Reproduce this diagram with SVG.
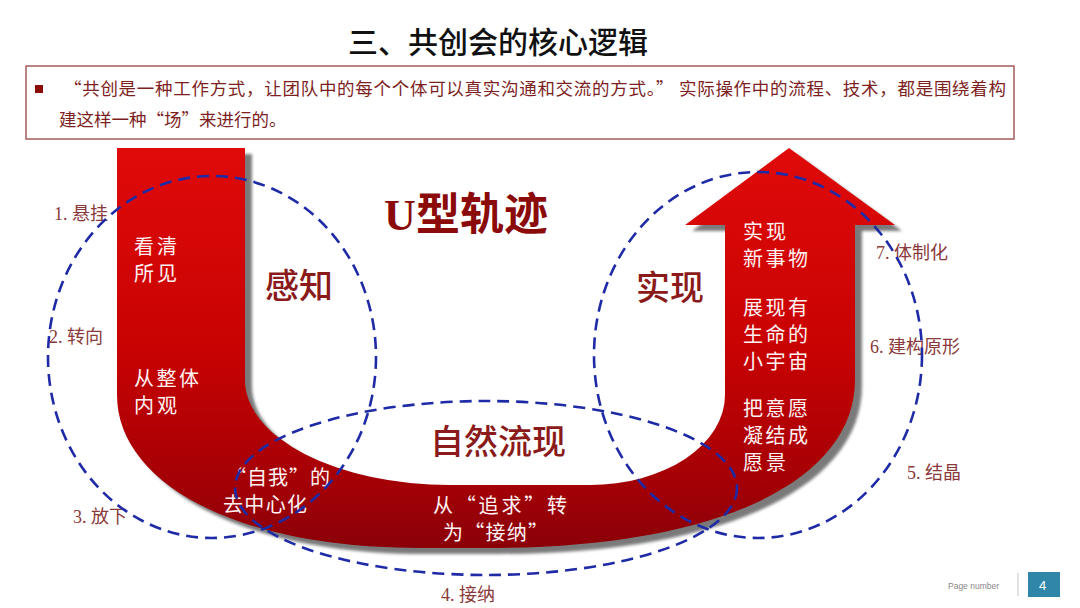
<svg xmlns="http://www.w3.org/2000/svg" width="1080" height="608" viewBox="0 0 1080 608">
<defs>
<style>
.title{font-family:"Noto Sans CJK SC","Noto Sans",sans-serif;font-size:30px;font-weight:500;fill:#111}
.box{font-family:"Noto Sans CJK SC",sans-serif;font-size:17.5px;fill:#7e1f1f}
.lbl{font-family:"Liberation Serif","Noto Sans CJK SC",serif;font-size:18px;fill:#8a3a3a}
.big{font-family:"Noto Sans CJK SC",sans-serif;font-size:34px;fill:#8b1a1a;font-weight:500}
.in{font-family:"Noto Sans CJK SC",sans-serif;font-size:20px;fill:#fff2f2}
.ring{fill:none;stroke:#1f2ba6;stroke-width:2.6;stroke-dasharray:12 7}
</style>
<linearGradient id="red" gradientUnits="userSpaceOnUse" x1="0" y1="148" x2="0" y2="548">
<stop offset="0" stop-color="#e00a0a"/>
<stop offset="0.5" stop-color="#c80202"/>
<stop offset="0.85" stop-color="#a20006"/>
<stop offset="1" stop-color="#8a0008"/>
</linearGradient>
<filter id="soft" x="-5%" y="-5%" width="110%" height="110%"><feGaussianBlur stdDeviation="1.8"/></filter>
<path id="ushape" d="M117,148 L245,148 L245,380 A205,105 0 0 0 450,485 L590,485 A135,90 0 0 0 725,395 L725,225 L685,225 L789,148 L895,225 L855,225 L855,380 C855,480 720,548 490,548 L420,548 C230,548 117,480 117,395 Z"/>
</defs>
<rect width="1080" height="608" fill="#ffffff"/>

<g id="title"><text class="title" x="498" y="53" text-anchor="middle">三、共创会的核心逻辑</text></g>

<g id="quote-box">
<rect x="26" y="66" width="988" height="73" fill="#fff" stroke="#a45c5c" stroke-width="1.5"/>
<rect x="35" y="85" width="8" height="8" fill="#8b0a0a"/>
<text class="box" x="64" y="95" textLength="942" lengthAdjust="spacing">“共创是一种工作方式，让团队中的每个个体可以真实沟通和交流的方式。” 实际操作中的流程、技术，都是围绕着构</text>
<text class="box" x="59" y="126">建这样一种“场”来进行的。</text>
</g>

<g id="stage-labels">
<text class="lbl" x="54" y="220">1. 悬挂</text>
<text class="lbl" x="49" y="343">2. 转向</text>
<text class="lbl" x="73" y="523">3. 放下</text>
<text class="lbl" x="441" y="601">4. 接纳</text>
<text class="lbl" x="907" y="479">5. 结晶</text>
<text class="lbl" x="870" y="353">6. 建构原形</text>
<text class="lbl" x="876" y="259">7. 体制化</text>
</g>

<g id="u-trajectory">
<use href="#ushape" fill="#7a7a7a" transform="translate(7,6)" filter="url(#soft)"/>
<use href="#ushape" fill="url(#red)"/>
<text class="in" x="134" y="254" textLength="43" lengthAdjust="spacing">看清</text>
<text class="in" x="134" y="281" textLength="43" lengthAdjust="spacing">所见</text>
<text class="in" x="134" y="386" textLength="65" lengthAdjust="spacing">从整体</text>
<text class="in" x="134" y="413" textLength="43" lengthAdjust="spacing">内观</text>
<text class="in" x="226" y="485" textLength="104" lengthAdjust="spacing">“自我”的</text>
<text class="in" x="223" y="512" textLength="84" lengthAdjust="spacing">去中心化</text>
<text class="in" x="433" y="513" textLength="134" lengthAdjust="spacing">从“追求”转</text>
<text class="in" x="443" y="540" textLength="105" lengthAdjust="spacing">为“接纳”</text>
<text class="in" x="743" y="239" textLength="43" lengthAdjust="spacing">实现</text>
<text class="in" x="743" y="266" textLength="65" lengthAdjust="spacing">新事物</text>
<text class="in" x="743" y="315" textLength="65" lengthAdjust="spacing">展现有</text>
<text class="in" x="743" y="342" textLength="65" lengthAdjust="spacing">生命的</text>
<text class="in" x="743" y="369" textLength="65" lengthAdjust="spacing">小宇宙</text>
<text class="in" x="743" y="416" textLength="65" lengthAdjust="spacing">把意愿</text>
<text class="in" x="743" y="443" textLength="65" lengthAdjust="spacing">凝结成</text>
<text class="in" x="743" y="470" textLength="43" lengthAdjust="spacing">愿景</text>
</g>

<g id="u-title"><text x="466" y="230" text-anchor="middle" style="font-family:'Liberation Serif','Noto Sans CJK SC',serif;font-size:44px;font-weight:bold;fill:#8b0a0a">U型轨迹</text></g>

<g id="perceive">
<ellipse class="ring" cx="212" cy="357" rx="164" ry="181"/>
<text class="big" x="299" y="298" text-anchor="middle">感知</text>
</g>
<g id="realize">
<ellipse class="ring" cx="758" cy="355" rx="164" ry="183"/>
<text class="big" x="670" y="300" text-anchor="middle">实现</text>
</g>
<g id="emerge">
<ellipse class="ring" cx="486" cy="488" rx="251" ry="87"/>
<text class="big" x="498" y="454" text-anchor="middle">自然流现</text>
</g>

<g id="page-number">
<text x="948" y="589" style="font-family:'Liberation Sans',sans-serif;font-size:8.5px;fill:#888">Page number</text>
<line x1="1018" y1="573" x2="1018" y2="596" stroke="#cfcfcf" stroke-width="1.2"/>
<rect x="1028" y="572" width="32" height="25" fill="#2f86a6"/>
<text x="1039" y="590" style="font-family:'Liberation Sans',sans-serif;font-size:13px;fill:#fff">4</text>
</g>
</svg>
